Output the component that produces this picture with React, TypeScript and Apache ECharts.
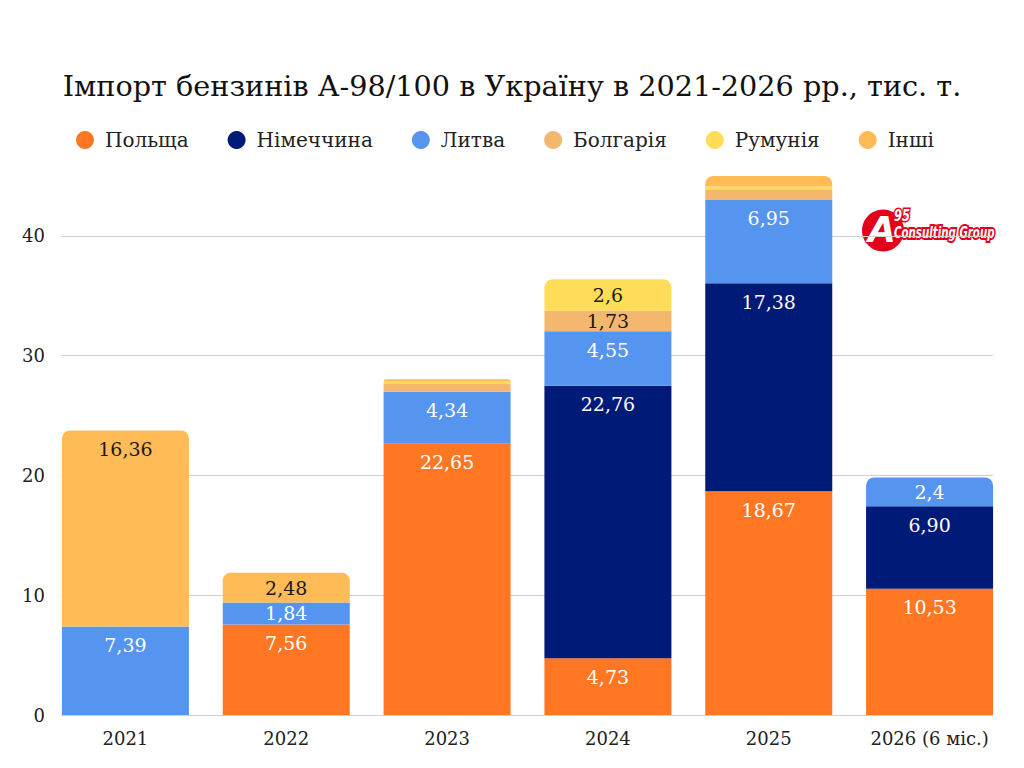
import React, { useEffect, useRef } from "react";
import * as echarts from "echarts";

const years = ["2021", "2022", "2023", "2024", "2025", "2026 (6 міс.)"];
const seriesNames = ["Польща", "Німеччина", "Литва", "Болгарія", "Румунія", "Інші"];
const poland = [null, "7.56", "22.65", "4.73", "18.67", "10.53"];
const germany = [null, null, null, "22.76", "17.38", "6.90"];
const lithuania = ["7.39", "1.84", "4.34", "4.55", "6.95", "2.4"];
const bulgaria = [null, null, "0.7", "1.73", "0.9", null];
const romania = [null, null, "0.15", "2.6", "0.25", null];
const others = ["16.36", "2.48", "0.2", null, "0.9", null];
const yTicks = [0, 10, 20, 30, 40];

const colors = ["#FF7722", "#001A78", "#5595F0", "#F4B76E", "#FFDD58", "#FFBB55"];
const labelColors = ["#ffffff", "#ffffff", "#ffffff", "#1a1a1a", "#1a1a1a", "#1a1a1a"];
const FONT = "DejaVu Serif";

export default function App() {
  const ref = useRef<HTMLDivElement>(null);
  useEffect(() => {
    document.body.style.margin = "0";
    const chart = echarts.init(ref.current!, null, { renderer: "svg" });
    const all = [poland, germany, lithuania, bulgaria, romania, others];
    const topIndex = years.map((_, i) => {
      let t = -1;
      all.forEach((s, k) => {
        if (s[i] !== null) t = k;
      });
      return t;
    });
    const series = all.map((arr, k) => ({
      name: seriesNames[k],
      type: "bar",
      stack: "total",
      xAxisIndex: 1,
      yAxisIndex: 1,
      barWidth: 127,
      itemStyle: { color: colors[k] },
      data: arr.map((s, i) => {
        if (s === null) return null;
        const v = parseFloat(s);
        return {
          value: v,
          itemStyle: { borderRadius: topIndex[i] === k ? [8, 8, 0, 0] : 0 },
          label: {
            show: v >= 1,
            position: v >= 3 ? "insideTop" : "inside",
          },
        };
      }),
      label: {
        show: true,
        distance: 9,
        color: labelColors[k],
        fontSize: 19,
        fontFamily: FONT,
        formatter: (p: any) => String(arr[p.dataIndex]).replace(".", ","),
      },
    }));

    chart.setOption({
      animation: false,
      backgroundColor: "#ffffff",
      title: {
        text: "Імпорт бензинів А-98/100 в Україну в 2021-2026 рр., тис. т.",
        left: "center",
        top: 66,
        textStyle: { fontFamily: FONT, fontSize: 28.7, fontWeight: "normal", color: "#111" },
      },
      legend: {
        data: seriesNames,
        top: 125,
        left: 71,
        icon: "circle",
        itemWidth: 18,
        itemHeight: 18,
        itemGap: 39,
        textStyle: { fontFamily: FONT, fontSize: 20, color: "#222", padding: [0, 0, 0, 6] },
      },
      grid: [
        { left: 61, right: 31, top: 176, bottom: 53 },
        { left: 45, right: 14, top: 176, bottom: 53 },
      ],
      xAxis: [
        { gridIndex: 0, type: "value", min: 0, max: 1, show: false },
        {
          gridIndex: 1,
          type: "category",
          data: years,
          axisLine: { show: false },
          axisTick: { show: false },
          axisLabel: { fontFamily: FONT, fontSize: 18, color: "#222", margin: 14 },
        },
      ],
      yAxis: [
        {
          gridIndex: 0,
          type: "value",
          min: yTicks[0],
          max: 45,
          interval: yTicks[1] - yTicks[0],
          axisLine: { show: false },
          axisTick: { show: false },
          splitLine: { show: true, showMinLine: true, showMaxLine: false, lineStyle: { color: "#d0d0d0", width: 1 } },
          axisLabel: { showMaxLabel: false, margin: 16, fontFamily: FONT, fontSize: 18, color: "#222" },
        },
        { gridIndex: 1, type: "value", min: 0, max: 45, show: false },
      ],
      series,
      graphic: [
        {
          type: "group",
          left: 862,
          top: 207,
          children: [
            { type: "circle", shape: { cx: 20, cy: 24, r: 21 }, style: { fill: "#E3001B" } },
            {
              type: "text",
              x: 5,
              y: 5,
              style: { text: "A", fill: "#fff", font: "italic bold 36px 'DejaVu Sans'", stroke: "#E3001B", lineWidth: 1 },
            },
            {
              type: "text",
              x: 31,
              y: 2,
              scaleX: 0.85,
              style: { text: "95", fill: "#fff", font: "italic bold 15px 'DejaVu Sans Condensed'", stroke: "#E3001B", lineWidth: 3 },
            },
            {
              type: "text",
              x: 31,
              y: 19,
              scaleX: 0.76,
              style: {
                text: "Consulting Group",
                fill: "#fff",
                font: "italic bold 15px 'DejaVu Sans Condensed'",
                stroke: "#E3001B",
                lineWidth: 4,
              },
            },
          ],
        },
      ],
    });
    return () => chart.dispose();
  }, []);
  return <div ref={ref} style={{ width: 1024, height: 768 }} />;
}
